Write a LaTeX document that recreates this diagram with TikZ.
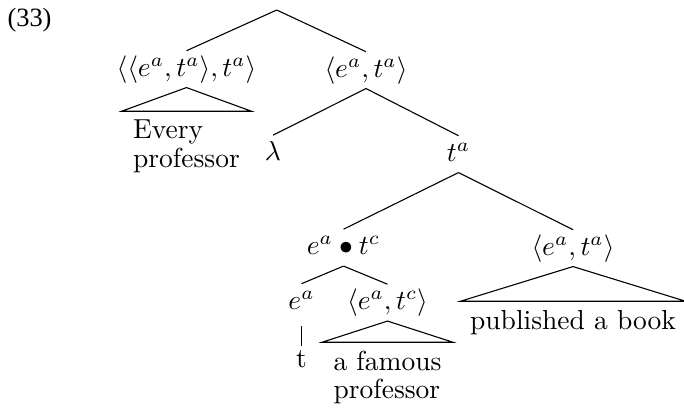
\documentclass[tikz,border=0pt]{standalone}
\usepackage{amsmath,amssymb}
\usepackage{fontspec}
\newfontfamily\exfont{Liberation Serif}
\usetikzlibrary{positioning}

\begin{document}
\begin{tikzpicture}[
    x=0.3636pt,y=-0.3636pt,
    cat/.style={anchor=base,inner xsep=0pt,inner ysep=1.5pt,
      text height=7.5pt,text depth=2.5pt},
    roof/.style={align=left,inner xsep=4pt,inner ysep=3pt},
    leaf/.style={inner sep=1.5pt},
    ln/.style={black,line width=0.4pt}]
    \useasboundingbox (0,0) rectangle (684,408);
    \node[anchor=base west,inner sep=0pt,font=\exfont\fontsize{9.6}{11}\selectfont] (num) at (7,26.5) {(33)};
    \coordinate (root) at (276.7,10);
    \node[cat] (gq) at (186.5,76) {$\langle\langle e^a, t^a\rangle, t^a\rangle$};
    \node[cat] (abs) at (366,77) {$\langle e^a, t^a\rangle$};
    \node[cat] (lam) at (273,160.5) {$\lambda$};
    \node[cat] (prop) at (458.5,161) {$t^a$};
    \node[cat] (subj) at (343.5,254.5) {$e^a \bullet t^c$};
    \node[cat] (vp) at (573,255) {$\langle e^a, t^a\rangle$};
    \node[cat] (trace) at (301.5,309) {$e^a$};
    \node[cat] (mod) at (387.5,309.5) {$\langle e^a, t^c\rangle$};
    \node[roof,below=8.6pt of gq] (every) {Every\\[-1.7pt]professor};
    \node[roof,below=7.7pt of mod] (famous) {a famous\\[-1.7pt]professor};
    \node[roof,inner xsep=3.3pt,below=12.6pt of vp] (book) {published a book};
    \node[leaf,below=9.3pt of trace] (t) {t};
    \draw[ln](root)--(gq.north); \draw[ln](root)--(abs.north);
    \draw[ln](abs.south)--(lam.north); \draw[ln](abs.south)--(prop.north);
    \draw[ln](prop.south)--(subj.north); \draw[ln](prop.south)--(vp.north);
    \draw[ln](subj.south)--(trace.north); \draw[ln](subj.south)--(mod.north);
    \draw[ln,shorten <=2pt](trace.south)--(t.north);
    \draw[ln](gq.south)--(every.north west)--(every.north east)--cycle;
    \draw[ln](mod.south)--(famous.north west)--(famous.north east)--cycle;
    \draw[ln](vp.south)--(book.north west)--(book.north east)--cycle;
\end{tikzpicture}
\end{document}
